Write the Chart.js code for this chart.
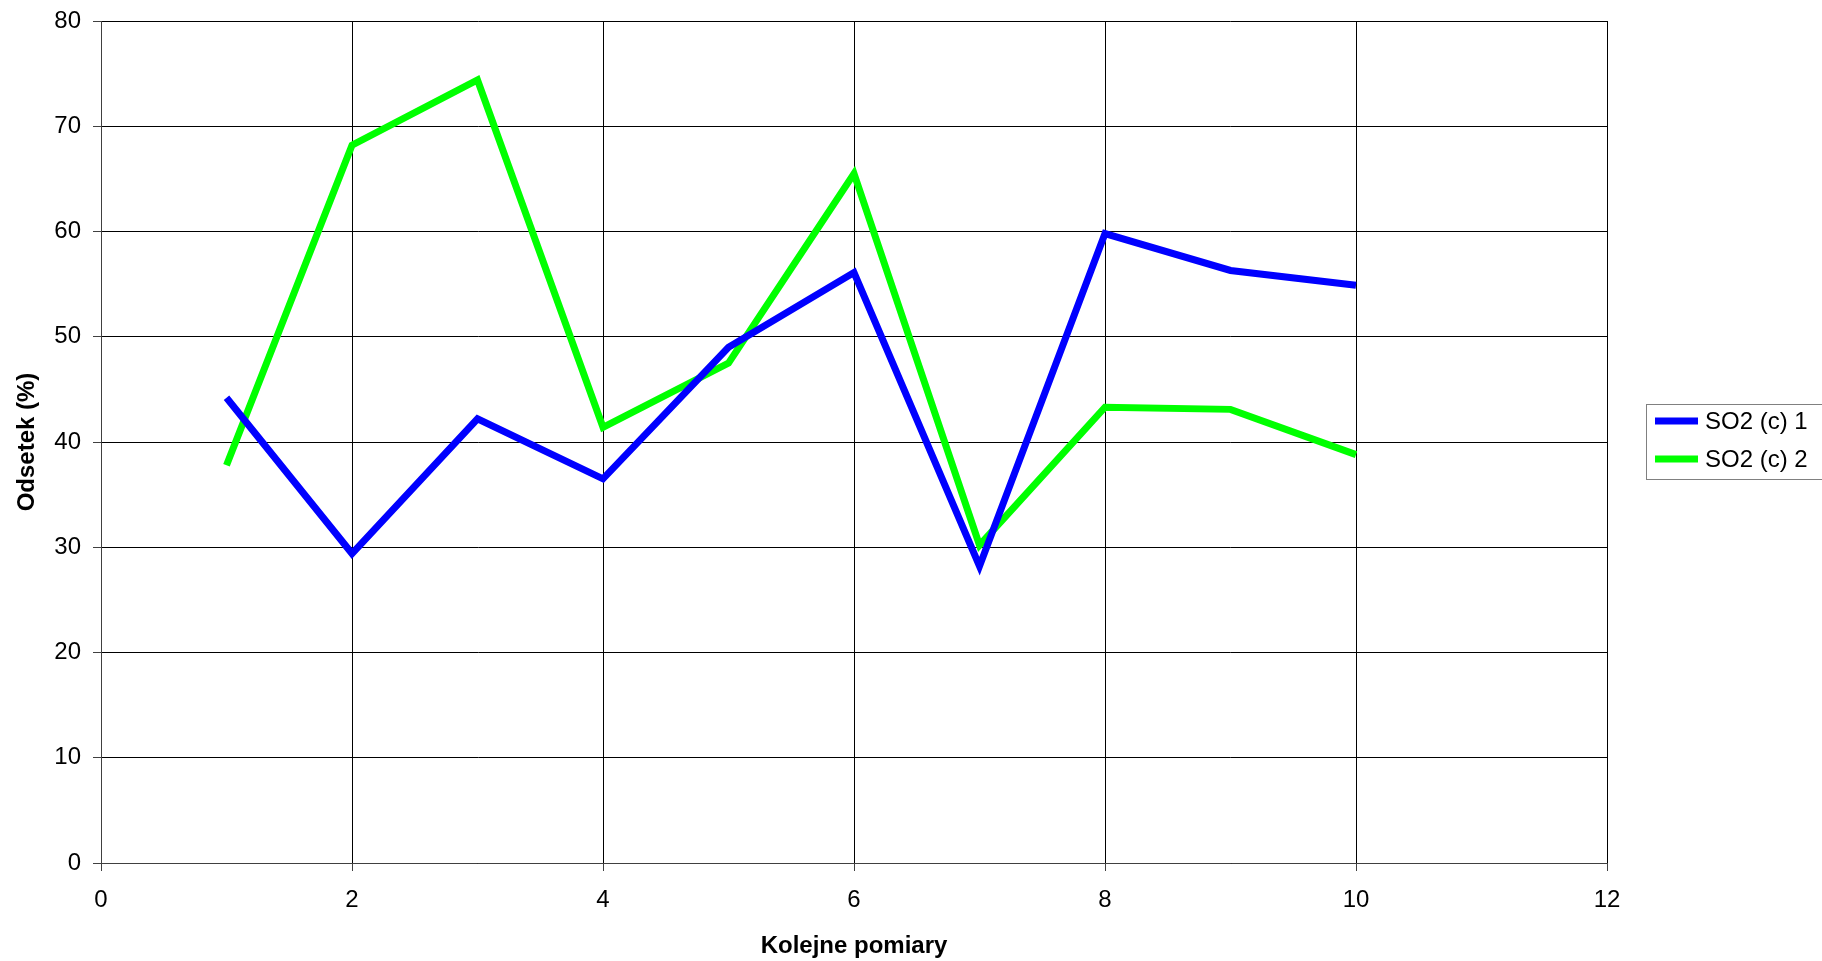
<!DOCTYPE html>
<html>
<head>
<meta charset="utf-8">
<script src="https://cdn.jsdelivr.net/npm/chart.js@4"></script>
<style>
  html, body { margin: 0; padding: 0; background: #fff; }
  #wrap { width: 1822px; height: 961px; }
</style>
</head>
<body>
<div id="wrap"><canvas id="c" width="1822" height="961"></canvas></div>
<script>
const measurements = [1, 2, 3, 4, 5, 6, 7, 8, 9, 10];
const so2c1 = [44.2, 29.4, 42.2, 36.5, 49.0, 56.1, 28.2, 59.8, 56.3, 54.9];
const so2c2 = [37.8, 68.2, 74.4, 41.4, 47.5, 65.5, 30.2, 43.3, 43.1, 38.8];
const seriesNames = ['SO2 (c) 1', 'SO2 (c) 2'];
const seriesColors = ['#0000FF', '#00FF00'];
const xTitle = 'Kolejne pomiary';
const yTitle = 'Odsetek (%)';

const FONT = "'Liberation Sans', Arial, sans-serif";

const legendPlugin = {
  id: 'boxLegend',
  afterDraw(chart) {
    const ctx = chart.ctx;
    ctx.save();
    ctx.strokeStyle = '#808080';
    ctx.lineWidth = 1;
    ctx.strokeRect(1646.5, 404.5, 200, 75);
    const rows = [421, 459];
    chart.data.datasets.forEach((ds, i) => {
      ctx.strokeStyle = ds.borderColor;
      ctx.lineWidth = 7;
      ctx.lineCap = 'butt';
      ctx.beginPath();
      ctx.moveTo(1655, rows[i]);
      ctx.lineTo(1698, rows[i]);
      ctx.stroke();
      ctx.fillStyle = '#000';
      ctx.font = '24px ' + FONT;
      ctx.textBaseline = 'middle';
      ctx.textAlign = 'left';
      ctx.fillText(ds.label, 1705, rows[i] + 1);
    });
    ctx.restore();
  }
};

new Chart(document.getElementById('c'), {
  type: 'line',
  data: {
    datasets: [
      {
        label: seriesNames[0],
        data: measurements.map((x, i) => ({ x: x, y: so2c1[i] })),
        borderColor: seriesColors[0],
        backgroundColor: seriesColors[0],
        borderWidth: 7,
        pointRadius: 0,
        tension: 0,
        fill: false
      },
      {
        label: seriesNames[1],
        data: measurements.map((x, i) => ({ x: x, y: so2c2[i] })),
        borderColor: seriesColors[1],
        backgroundColor: seriesColors[1],
        borderWidth: 7,
        pointRadius: 0,
        tension: 0,
        fill: false
      }
    ]
  },
  options: {
    responsive: false,
    devicePixelRatio: 1,
    animation: false,
    layout: { padding: { left: 0, right: 215, top: 21, bottom: 0 } },
    plugins: {
      legend: { display: false },
      tooltip: { enabled: false }
    },
    scales: {
      x: {
        type: 'linear',
        min: 0, max: 12,
        ticks: { stepSize: 2, color: '#000', font: { family: FONT, size: 24 }, padding: 15 },
        grid: { color: '#000', lineWidth: 1, tickLength: 8, tickColor: '#404040' },
        border: { color: '#404040', width: 1 },
        title: { display: true, text: xTitle, color: '#000', font: { family: FONT, size: 24, weight: 'bold' }, padding: { top: 2, bottom: 0 } },
        afterFit(scale) { scale.height = 98; scale.paddingLeft = 0; scale.paddingRight = 0; }
      },
      y: {
        min: 0, max: 80,
        ticks: { stepSize: 10, color: '#000', font: { family: FONT, size: 24 }, padding: 12 },
        grid: { color: '#000', lineWidth: 1, tickLength: 8, tickColor: '#404040' },
        border: { color: '#404040', width: 1 },
        title: { display: true, text: yTitle, color: '#000', font: { family: FONT, size: 24, weight: 'bold' }, padding: { top: 13, bottom: 0 } },
        afterFit(scale) { scale.width = 101; scale.paddingTop = 0; scale.paddingBottom = 0; }
      }
    }
  },
  plugins: [legendPlugin]
});
</script>
</body>
</html>
